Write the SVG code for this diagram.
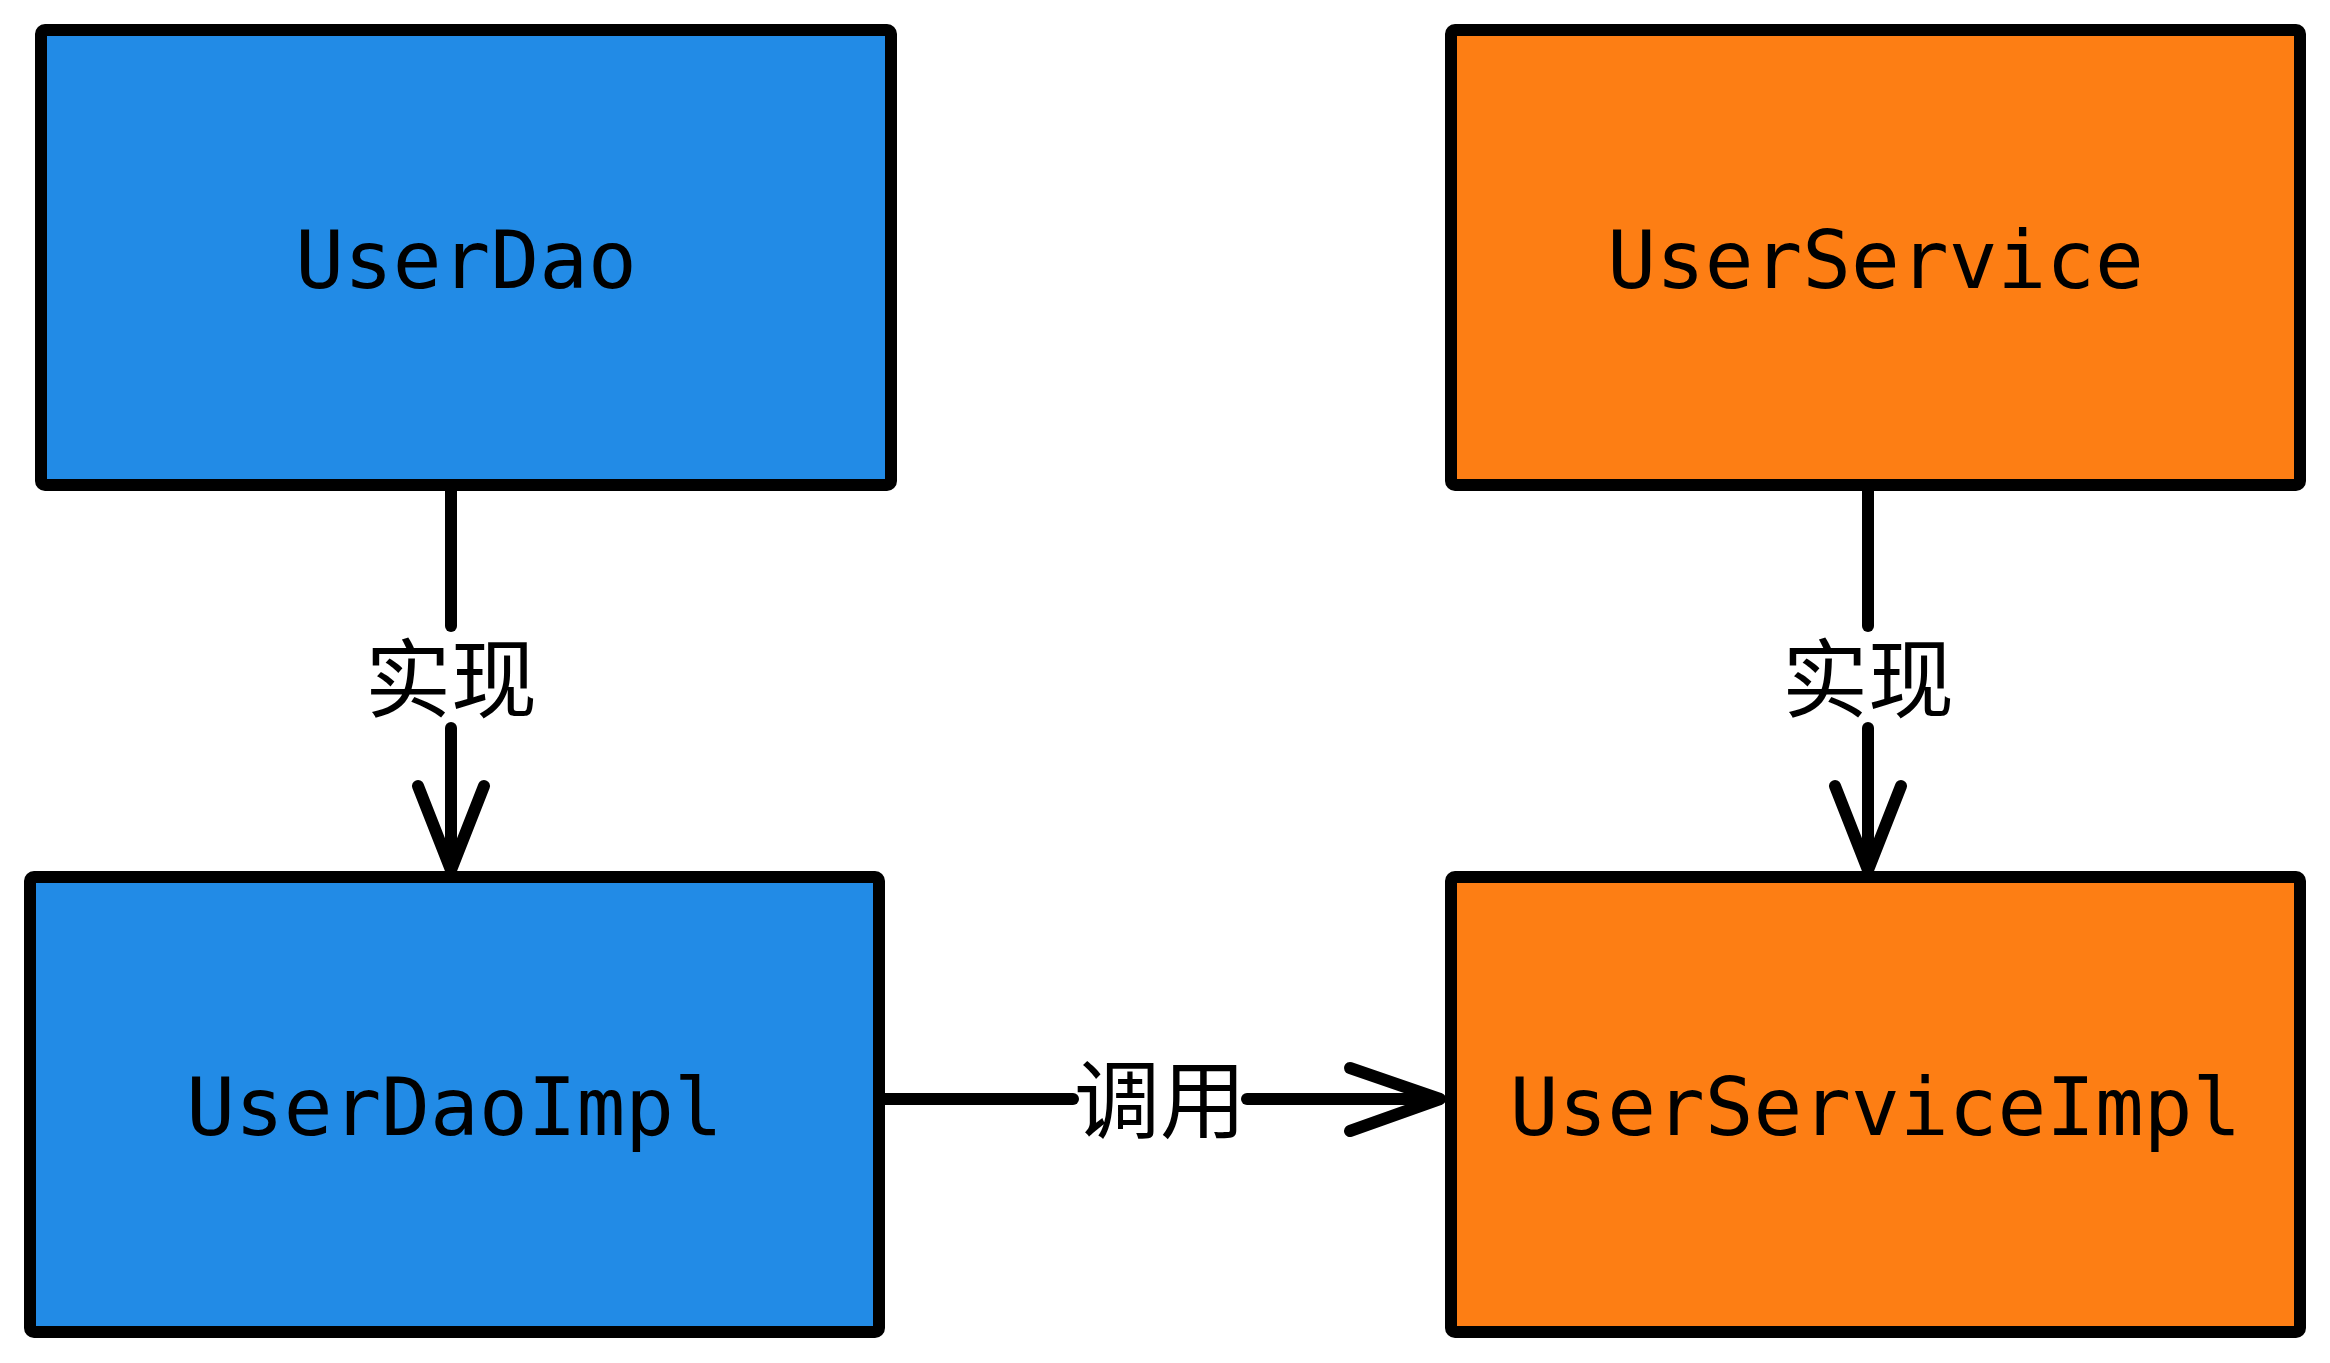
<svg xmlns="http://www.w3.org/2000/svg" width="2330" height="1363" viewBox="0 0 2330 1363">
<style>
.box{stroke:#000;stroke-width:12;stroke-linejoin:round}
.blue{fill:#228be6}
.orange{fill:#fd7e14}
.name{font-family:"DejaVu Sans Mono","Liberation Mono",monospace;font-size:81px;fill:#000;text-anchor:middle}
.lbl{font-family:"Noto Sans CJK SC","Noto Sans",sans-serif;font-size:86px;fill:#000;text-anchor:middle}
.ln{stroke:#000;stroke-width:12;fill:none;stroke-linecap:round;stroke-linejoin:round}
</style>
<rect width="2330" height="1363" fill="#fff"/>
<g id="UserDao">
<rect class="box blue" x="41" y="30" width="850" height="455" rx="4"/>
<text class="name" x="466" y="288">UserDao</text>
</g>
<g id="UserService">
<rect class="box orange" x="1451" y="30" width="849" height="455" rx="4"/>
<text class="name" x="1875.5" y="288">UserService</text>
</g>
<g id="UserDaoImpl">
<rect class="box blue" x="30" y="877" width="849" height="455" rx="4"/>
<text class="name" x="454.5" y="1135">UserDaoImpl</text>
</g>
<g id="UserServiceImpl">
<rect class="box orange" x="1451" y="877" width="849" height="455" rx="4"/>
<text class="name" x="1875.5" y="1135">UserServiceImpl</text>
</g>
<g id="connectors">
<g id="e1">
<path class="ln" d="M451 485 V626" stroke-linecap="butt"/>
<path class="ln" d="M451 728 V869" stroke-linecap="butt"/>
<path class="ln" d="M418 786 L451 870 L484 786"/>
<text class="lbl" x="451" y="711">实现</text>
</g>
<g id="e2">
<path class="ln" d="M1868 485 V626" stroke-linecap="butt"/>
<path class="ln" d="M1868 728 V869" stroke-linecap="butt"/>
<path class="ln" d="M1835 786 L1868 870 L1901 786"/>
<text class="lbl" x="1868" y="711">实现</text>
</g>
<g id="e3">
<path class="ln" d="M879 1099 H1073" stroke-linecap="butt"/>
<path class="ln" d="M1247 1099 H1439" stroke-linecap="butt"/>
<path class="ln" d="M1350 1068 L1440 1099 L1350 1131"/>
<text class="lbl" x="1160" y="1132">调用</text>
</g>
</g>
</svg>
